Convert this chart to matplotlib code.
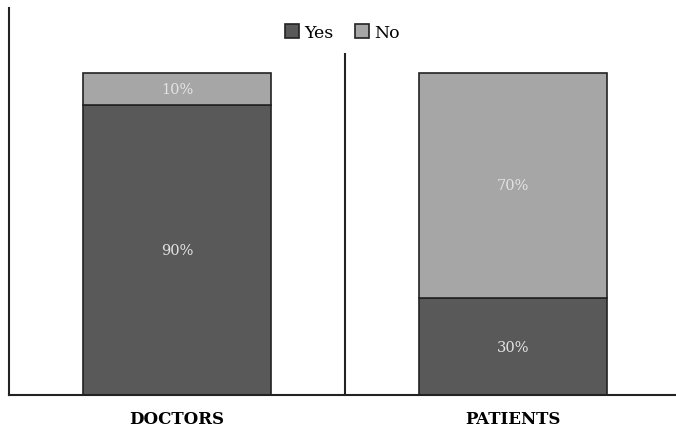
import matplotlib.pyplot as plt
import numpy as np

# Data
groups = ['DOCTORS', 'PATIENTS']
yes = [90, 30]
no = [10, 70]

plt.rcParams['font.family'] = ['DejaVu Serif']

fig = plt.figure(figsize=(6.76, 4.27), dpi=100)
ax = fig.add_axes([9 / 676, 31 / 427, 1 - 9 / 676, 387 / 427])

x = np.arange(len(groups))
dark = '#595959'
light = '#a6a6a6'

# Plotting
ax.bar(x, yes, width=0.56, color=dark, edgecolor='#222222', linewidth=1.2, label='Yes')
ax.bar(x, no, width=0.56, bottom=yes, color=light, edgecolor='#222222', linewidth=1.2, label='No')

for i in range(len(groups)):
    ax.text(x[i], yes[i] / 2, f'{yes[i]}%', ha='center', va='center', color='#e3e3e3', fontsize=10.5)
    ax.text(x[i], yes[i] + no[i] / 2, f'{no[i]}%', ha='center', va='center', color='#e3e3e3', fontsize=10.5)

# separator between groups
ax.vlines(0.5, 0, 106, color='#222222', linewidth=1.5)

# Customization
ax.set_xlim(-0.5, 1.485)
ax.set_ylim(0, 120)
ax.set_yticks([])
ax.set_xticks(x)
ax.set_xticklabels(groups, fontweight='bold', fontsize=12)
ax.tick_params(axis='x', length=0, pad=11)
for s in ['top', 'right']:
    ax.spines[s].set_visible(False)
ax.spines['left'].set_linewidth(1.5)
ax.spines['bottom'].set_linewidth(1.5)
ax.spines['left'].set_color('#222222')
ax.spines['bottom'].set_color('#222222')

ax.legend(loc='upper center', bbox_to_anchor=(0.5, 1.0), ncol=2, frameon=False,
          handlelength=0.85, handleheight=0.85, handletextpad=0.3, columnspacing=1.2,
          fontsize=12.5)

fig.savefig('out.png', dpi=100)
